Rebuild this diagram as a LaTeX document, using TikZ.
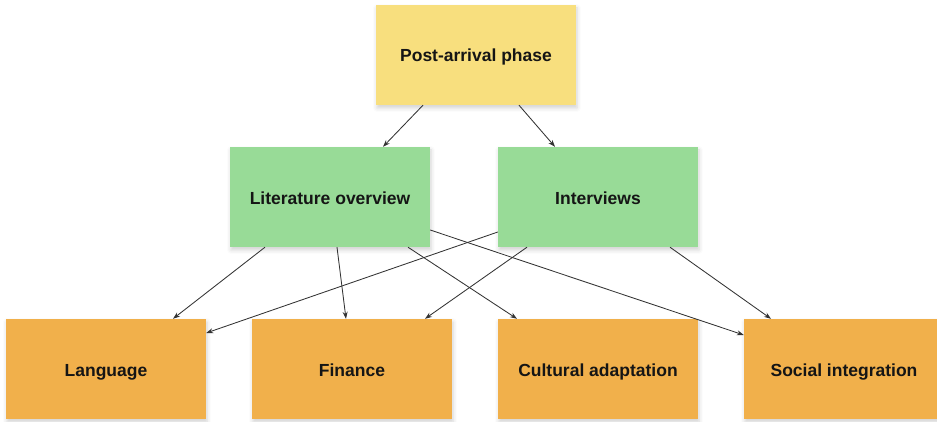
\documentclass[tikz,border=0pt]{standalone}
\usepackage{fontspec}
\setmainfont{Liberation Sans}
\usetikzlibrary{arrows.meta,shadows.blur}
\definecolor{phaseyellow}{HTML}{F8DF7E}
\definecolor{methodgreen}{HTML}{98DB97}
\definecolor{topicorange}{HTML}{F1B04B}
\definecolor{linkgray}{HTML}{333333}
\definecolor{labelink}{HTML}{151515}
\tikzset{
  box/.style={minimum width=200pt, minimum height=100pt, inner sep=0pt,
    text height=16pt, text depth=2pt,
    text=labelink, font=\fontsize{17.5}{20}\selectfont\bfseries,
    blur shadow={shadow xshift=1pt, shadow yshift=-3pt, shadow opacity=18, shadow blur radius=4pt}},
  phase/.style={box, fill=phaseyellow},
  method/.style={box, fill=methodgreen},
  topic/.style={box, fill=topicorange},
  link/.style={draw=linkgray, line width=0.85pt, -{Stealth[length=7pt, width=5pt]}}
}
\begin{document}
\begin{tikzpicture}[x=1pt, y=1pt]
  \useasboundingbox (0,0) rectangle (937,421);

  % top level
  \node[phase] (post) at (476,366) {Post-arrival phase};

  % methods
  \node[method] (lit) at (330,224) {Literature overview};
  \node[method] (int) at (598,224) {Interviews};

  % topics
  \node[topic] (lang) at (106,52) {Language};
  \node[topic] (fin)  at (352,52) {Finance};
  \node[topic] (cult) at (598,52) {Cultural adaptation};
  \node[topic] (soc)  at (844,52) {Social integration};

  % connectors
  \draw[link] ([xshift=-53pt]post.south) -- ([xshift=53pt]lit.north);
  \draw[link] ([xshift=43pt]post.south) -- ([xshift=-43pt]int.north);

  \draw[link] ([xshift=-65pt]lit.south) -- ([xshift=67pt]lang.north);
  \draw[link] ([xshift=7pt]lit.south) -- ([xshift=-6pt]fin.north);
  \draw[link] ([xshift=78pt]lit.south) -- ([xshift=-81pt]cult.north);
  \draw[link] ([yshift=-33pt]lit.east) -- ([yshift=34pt]soc.west);

  \draw[link] ([yshift=-35pt]int.west) -- ([yshift=36pt]lang.east);
  \draw[link] ([xshift=-71pt]int.south) -- ([xshift=73pt]fin.north);
  \draw[link] ([xshift=72pt]int.south) -- ([xshift=-73pt]soc.north);
\end{tikzpicture}
\end{document}
